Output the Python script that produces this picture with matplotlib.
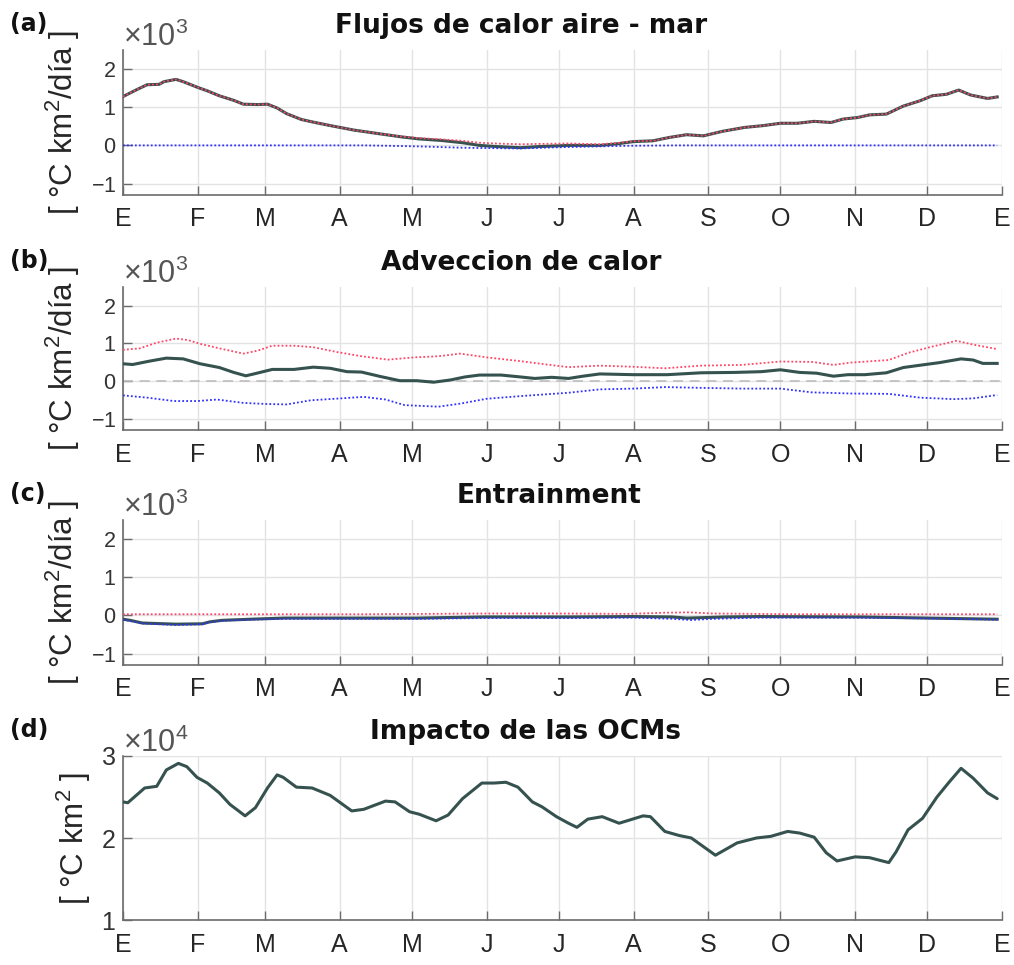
import matplotlib
matplotlib.use("Agg")
import matplotlib.pyplot as plt
from matplotlib.ticker import ScalarFormatter, FixedLocator

plt.rcParams['font.family'] = ['Liberation Sans', 'DejaVu Sans']
plt.rcParams['mathtext.fontset'] = 'custom'
plt.rcParams['mathtext.rm'] = 'Liberation Sans'
plt.rcParams['mathtext.default'] = 'regular'
plt.rcParams['axes.unicode_minus'] = False

# ---------------- data ----------------
MONTH_DAYS = [0, 31, 59, 90, 120, 151, 181, 212, 243, 273, 304, 334, 365]
MONTH_LABELS = ['E', 'F', 'M', 'A', 'M', 'J', 'J', 'A', 'S', 'O', 'N', 'D', 'E']
TITLES = ['Flujos de calor aire - mar', 'Adveccion de calor', 'Entrainment', 'Impacto de las OCMs']
PANEL_LABELS = ['(a)', '(b)', '(c)', '(d)']

# (a) air-sea heat flux (x10^3)
A_NET_DAYS = [0, 6, 10, 15, 17, 22, 25, 31, 35, 40, 46, 50, 56, 60, 64, 68, 74, 79, 86, 96, 107,
              116, 123, 132, 141, 148, 155, 165, 173, 185, 198, 205, 212, 220, 227, 234, 241, 249,
              258, 266, 273, 280, 287, 294, 299, 305, 310, 317, 324, 331, 336, 342, 347, 352, 359, 363]
A_NET = [1.28, 1.47, 1.59, 1.60, 1.67, 1.73, 1.67, 1.52, 1.43, 1.30, 1.18, 1.08, 1.07, 1.08, 0.98,
         0.83, 0.68, 0.61, 0.52, 0.40, 0.30, 0.22, 0.17, 0.13, 0.07, 0.00, -0.03, -0.06, -0.03, 0.00,
         0.00, 0.04, 0.10, 0.12, 0.21, 0.28, 0.25, 0.37, 0.47, 0.52, 0.58, 0.58, 0.63, 0.60, 0.69,
         0.73, 0.80, 0.82, 1.03, 1.17, 1.30, 1.34, 1.45, 1.32, 1.23, 1.27]
A_POS = [1.28, 1.47, 1.59, 1.60, 1.67, 1.73, 1.67, 1.52, 1.43, 1.30, 1.18, 1.08, 1.07, 1.08, 0.98,
         0.83, 0.68, 0.61, 0.52, 0.40, 0.30, 0.23, 0.19, 0.16, 0.12, 0.07, 0.05, 0.03, 0.04, 0.05,
         0.03, 0.06, 0.11, 0.12, 0.21, 0.28, 0.25, 0.37, 0.47, 0.52, 0.58, 0.58, 0.63, 0.60, 0.69,
         0.73, 0.80, 0.82, 1.03, 1.17, 1.30, 1.34, 1.45, 1.32, 1.23, 1.27]
A_NEG_DAYS = [0, 50, 100, 110, 125, 140, 150, 165, 180, 195, 210, 230, 280, 330, 363]
A_NEG = [0.0, 0.0, 0.0, -0.01, -0.03, -0.06, -0.07, -0.08, -0.05, -0.03, -0.01, 0.0, 0.0, 0.0, 0.0]

# (b) heat advection (x10^3)
B_NET_DAYS = [0, 4, 11, 18, 25, 32, 40, 46, 51, 55, 62, 71, 79, 86, 93, 99, 107, 115, 122, 129, 136,
              142, 148, 157, 165, 171, 178, 185, 191, 198, 212, 226, 240, 254, 265, 273, 281, 288,
              295, 301, 308, 317, 324, 332, 339, 348, 353, 357, 363]
B_NET = [0.46, 0.44, 0.53, 0.61, 0.59, 0.46, 0.36, 0.23, 0.14, 0.20, 0.31, 0.31, 0.37, 0.34, 0.25,
         0.24, 0.12, 0.01, 0.01, -0.03, 0.03, 0.11, 0.16, 0.16, 0.11, 0.07, 0.10, 0.07, 0.13, 0.19,
         0.17, 0.17, 0.22, 0.23, 0.25, 0.30, 0.23, 0.21, 0.13, 0.17, 0.17, 0.22, 0.36, 0.43, 0.49,
         0.59, 0.56, 0.47, 0.47]
B_POS_DAYS = [0, 7, 14, 22, 27, 32, 40, 50, 56, 62, 71, 79, 89, 99, 110, 121, 131, 140, 151, 165, 176,
              185, 198, 212, 225, 240, 257, 273, 286, 295, 302, 318, 326, 335, 346, 353, 363]
B_POS = [0.83, 0.87, 1.02, 1.13, 1.09, 0.99, 0.87, 0.73, 0.81, 0.94, 0.94, 0.90, 0.77, 0.66, 0.57,
         0.63, 0.66, 0.73, 0.63, 0.53, 0.44, 0.37, 0.41, 0.38, 0.34, 0.41, 0.43, 0.52, 0.51, 0.43,
         0.49, 0.56, 0.75, 0.90, 1.07, 0.97, 0.85]
B_NEG_DAYS = [0, 10, 21, 31, 39, 50, 60, 68, 78, 88, 100, 109, 117, 131, 140, 151, 165, 176, 185, 198,
              212, 225, 240, 257, 273, 286, 302, 318, 331, 345, 353, 363]
B_NEG = [-0.38, -0.44, -0.53, -0.53, -0.49, -0.58, -0.61, -0.62, -0.51, -0.47, -0.42, -0.49, -0.64,
         -0.68, -0.60, -0.47, -0.40, -0.35, -0.31, -0.22, -0.20, -0.16, -0.18, -0.20, -0.20, -0.30,
         -0.33, -0.34, -0.44, -0.48, -0.46, -0.37]

# (c) entrainment (x10^3)
C_NET_DAYS = [0, 3, 8, 22, 33, 36, 41, 53, 67, 95, 122, 150, 185, 212, 228, 234, 240, 250, 264, 306, 334, 363]
C_NET = [-0.10, -0.13, -0.20, -0.23, -0.22, -0.17, -0.13, -0.10, -0.07, -0.07, -0.07, -0.04, -0.04,
         -0.03, -0.04, -0.07, -0.06, -0.04, -0.03, -0.04, -0.07, -0.10]
C_NEG_DAYS = [0, 8, 22, 33, 36, 41, 53, 67, 95, 122, 150, 185, 212, 228, 236, 245, 264, 306, 334, 363]
C_NEG = [-0.11, -0.21, -0.25, -0.23, -0.18, -0.14, -0.11, -0.09, -0.09, -0.09, -0.07, -0.07, -0.06,
         -0.09, -0.12, -0.09, -0.06, -0.06, -0.08, -0.11]
C_POS_DAYS = [0, 100, 150, 180, 210, 225, 235, 245, 280, 363]
C_POS = [0.03, 0.03, 0.05, 0.05, 0.04, 0.07, 0.08, 0.05, 0.03, 0.03]

# (d) OCM impact (x10^4)
D_DAYS = [0, 2, 9, 14, 18, 23, 26.5, 30.7, 35, 40, 44.4, 50.7, 55, 60, 64, 66.5, 72, 78.5, 86, 95, 100,
          109, 113, 119, 123, 130, 135, 141, 149, 154, 159, 164, 170, 174, 180, 185, 188.5, 193, 199,
          206, 216, 219, 225, 231, 236, 246, 255, 263, 269, 276, 281, 287, 292, 296.5, 304, 310, 318,
          321, 326, 332, 338, 343, 348, 353, 359, 363]
D_VAL = [2.44, 2.43, 2.61, 2.63, 2.83, 2.91, 2.87, 2.74, 2.67, 2.55, 2.41, 2.27, 2.37, 2.61, 2.77,
         2.74, 2.62, 2.61, 2.52, 2.33, 2.35, 2.45, 2.44, 2.32, 2.29, 2.21, 2.28, 2.48, 2.67, 2.67,
         2.68, 2.62, 2.44, 2.38, 2.26, 2.18, 2.13, 2.23, 2.26, 2.18, 2.27, 2.26, 2.08, 2.03, 2.00,
         1.79, 1.94, 2.00, 2.02, 2.08, 2.06, 2.01, 1.82, 1.72, 1.77, 1.76, 1.70, 1.83, 2.10, 2.24,
         2.50, 2.68, 2.85, 2.73, 2.55, 2.48]

# ---------------- style ----------------
NET_COLOR = '#35524f'
POS_COLOR = '#ff4466'
NEG_COLOR = '#3030ff'
TXT = '#262626'
SPINE = '#6b6b6b'
DOTS = (0, (1, 1.2))

fig = plt.figure(figsize=(10.14, 9.65), dpi=100)
W, H = 1014, 965
L, R = 123, 1002
boxes = [(50, 195), (287, 430), (520, 665), (756, 920)]
title_cx = [521, 521, 549, 525]

axes = []
for i, (t, b) in enumerate(boxes):
    ax = fig.add_axes([L / W, 1 - b / H, (R - L) / W, (b - t) / H])
    axes.append(ax)

def style(ax, i, ylim, yticks, scale, ytick_size):
    ax.set_xlim(0, 365)
    ax.set_ylim(ylim[0] * scale, ylim[1] * scale)
    ax.xaxis.set_major_locator(FixedLocator(MONTH_DAYS))
    ax.set_xticklabels(MONTH_LABELS)
    ax.yaxis.set_major_locator(FixedLocator([v * scale for v in yticks]))
    fmt = ScalarFormatter(useMathText=True)
    fmt.set_powerlimits((0, 0))
    ax.yaxis.set_major_formatter(fmt)
    for s in ['top', 'right']:
        ax.spines[s].set_visible(False)
    for s in ['left', 'bottom']:
        ax.spines[s].set_color(SPINE)
        ax.spines[s].set_linewidth(1.2)
    ax.grid(True, color='#e3e3e3', linewidth=1.0)
    ax.set_axisbelow(True)
    ax.tick_params(axis='both', direction='in', length=6.5, width=1.0, color=SPINE)
    ax.tick_params(axis='x', labelsize=18, labelcolor=TXT, pad=9)
    ax.tick_params(axis='y', labelsize=ytick_size, labelcolor='#333333', pad=5)
    ot = ax.yaxis.get_offset_text()
    ot.set_fontsize(22)
    ot.set_color('#555555')
    ax.text((title_cx[i] - L) / (R - L), 1.0 + 11 / (boxes[i][1] - boxes[i][0]), TITLES[i],
            transform=ax.transAxes, ha='center', va='bottom', fontsize=19,
            fontweight='bold', family='DejaVu Sans', color='#111111')
    fig.text(10 / W, 1 - (boxes[i][0] - 26) / H, PANEL_LABELS[i], fontsize=17,
             fontweight='bold', family='DejaVu Sans', color='#111111', ha='left', va='center')

def k(vals, s):
    return [v * s for v in vals]

# (a)
ax = axes[0]
ax.plot(A_NET_DAYS, k(A_NET, 1e3), color=NET_COLOR, lw=2.2, solid_joinstyle='round', zorder=3)
ax.plot(A_NET_DAYS, k(A_POS, 1e3), color=POS_COLOR, lw=1.3, ls=DOTS, zorder=4)
ax.plot(A_NEG_DAYS, k(A_NEG, 1e3), color=NEG_COLOR, lw=1.3, ls=DOTS, zorder=5)
style(ax, 0, (-1.3, 2.5), [-1, 0, 1, 2], 1e3, 15.5)

# (b)
ax = axes[1]
ax.axhline(0, color='#bdbdbd', lw=1.2, ls=(0, (6, 4)), zorder=2)
ax.plot(B_NET_DAYS, k(B_NET, 1e3), color=NET_COLOR, lw=2.2, solid_joinstyle='round', zorder=3)
ax.plot(B_POS_DAYS, k(B_POS, 1e3), color=POS_COLOR, lw=1.3, ls=DOTS, zorder=4)
ax.plot(B_NEG_DAYS, k(B_NEG, 1e3), color=NEG_COLOR, lw=1.3, ls=DOTS, zorder=5)
style(ax, 1, (-1.3, 2.5), [-1, 0, 1, 2], 1e3, 15.5)

# (c)
ax = axes[2]
ax.plot(C_NET_DAYS, k(C_NET, 1e3), color=NET_COLOR, lw=2.2, solid_joinstyle='round', zorder=3)
ax.plot(C_POS_DAYS, k(C_POS, 1e3), color=POS_COLOR, lw=1.3, ls=DOTS, zorder=4)
ax.plot(C_NEG_DAYS, k(C_NEG, 1e3), color=NEG_COLOR, lw=1.3, ls=DOTS, zorder=5)
style(ax, 2, (-1.3, 2.5), [-1, 0, 1, 2], 1e3, 15.5)

# (d)
ax = axes[3]
ax.plot(D_DAYS, k(D_VAL, 1e4), color=NET_COLOR, lw=2.2, solid_joinstyle='round',
        solid_capstyle='round', zorder=3)
style(ax, 3, (1, 3), [1, 2, 3], 1e4, 18)

for i, ax in enumerate(axes):
    lab = '[ °C km$^2$/día ]' if i < 3 else '[ °C km$^2$ ]'
    ax.set_ylabel(lab, fontsize=22.5, color=TXT, labelpad=6)

fig.savefig('out.png', dpi=100)
